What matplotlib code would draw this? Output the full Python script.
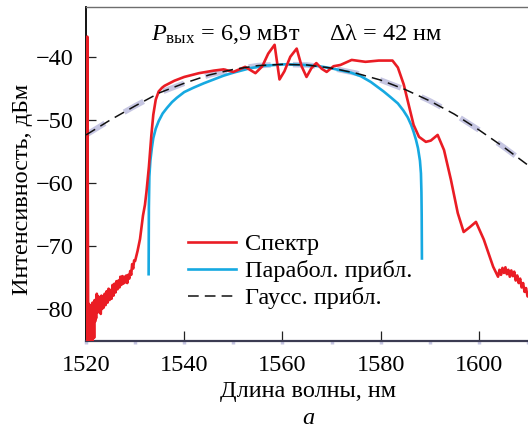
import numpy as np
import matplotlib
matplotlib.use("Agg")
import matplotlib.pyplot as plt
from matplotlib.ticker import MultipleLocator

plt.rcParams['font.family'] = ['Liberation Serif', 'DejaVu Serif']
plt.rcParams['mathtext.fontset'] = 'custom'
plt.rcParams['mathtext.rm'] = 'Liberation Serif'
plt.rcParams['mathtext.it'] = 'Liberation Serif:italic'

# measured output spectrum, nm / dBm
spectrumWl = [1520.05, 1520.25, 1520.45, 1520.55, 1520.65, 1520.75, 1520.85, 1520.95, 1521.05, 1521.15,
              1521.25, 1521.35, 1521.45, 1521.55, 1521.65, 1521.75, 1521.85, 1521.95, 1522.05, 1522.2,
              1522.35, 1522.5, 1522.7, 1522.85, 1523.0, 1523.15, 1523.3, 1523.45, 1523.6, 1523.8,
              1524.0, 1524.2, 1524.4, 1524.6, 1524.8, 1525.0, 1525.2, 1525.4, 1525.6, 1525.8,
              1526.0, 1526.2, 1526.4, 1526.6, 1526.8, 1527.0, 1527.2, 1527.4, 1527.6, 1527.8,
              1528.0, 1528.2, 1528.4, 1528.6, 1528.8, 1529.0, 1529.2, 1529.4, 1529.6, 1529.8,
              1530.0, 1530.5, 1531.0, 1531.6, 1532.0, 1532.3, 1532.8, 1533.3,
              1533.7, 1534.2, 1534.8, 1535.5, 1536.0, 1538.0, 1540.0, 1543.0, 1546.0, 1548.0,
              1550.0, 1552.4, 1554.5, 1555.9, 1557.1, 1558.4, 1559.4, 1560.4, 1561.6, 1562.9,
              1563.9, 1564.9, 1565.9, 1566.9, 1568.0, 1569.0, 1570.4, 1571.8, 1574.1, 1576.9,
              1579.6, 1582.4, 1583.5, 1584.7, 1585.7, 1586.7, 1587.8, 1589.2, 1590.2, 1591.6,
              1592.9, 1594.3, 1595.7, 1596.9, 1598.2, 1599.4, 1601.0, 1602.9, 1603.6, 1603.9,
              1604.2, 1604.5, 1604.8, 1605.1, 1605.4, 1605.7, 1606.0, 1606.3, 1606.6, 1606.9,
              1607.2, 1607.5, 1607.8, 1608.1, 1608.4, 1608.7, 1609.0, 1609.3, 1609.6, 1609.9,
              1610.2]
spectrumDb = [-85.5, -36.8, -85.5, -79.2, -84.5, -79.8, -85.5, -80.5, -84.0, -79.3,
              -85.5, -79.0, -83.2, -79.6, -84.6, -78.6, -82.0, -79.4, -81.5, -77.6,
              -80.6, -78.0, -80.4, -78.2, -80.8, -77.9, -80.0, -78.0, -79.8, -77.6,
              -79.4, -77.2, -79.0, -76.8, -78.6, -77.0, -78.4, -76.2, -77.9, -76.0,
              -77.4, -75.6, -76.9, -75.5, -76.6, -74.9, -76.2, -74.8, -76.0, -74.9,
              -75.8, -74.7, -75.9, -74.6, -75.2, -74.0, -74.6, -72.9, -73.6, -72.3,
              -72.4, -70.8, -68.9, -65.2, -63.5, -61.5, -57.5, -52.5,
              -49.2, -46.8, -45.5, -44.9, -44.6, -43.8, -43.2, -42.6, -42.2, -42.0,
              -42.4, -41.6, -42.6, -41.5, -39.5, -38.1, -43.6, -42.3, -40.0, -38.7,
              -41.5, -43.2, -41.8, -41.0, -41.9, -42.4, -41.5, -41.3, -40.5, -40.8,
              -40.6, -40.6, -41.7, -44.4, -47.6, -50.8, -52.7, -53.5, -53.3, -52.4,
              -54.8, -59.5, -64.8, -67.8, -67.0, -66.2, -69.0, -73.3, -74.4, -74.9,
              -73.8, -74.6, -73.5, -74.3, -73.4, -74.5, -73.8, -74.9, -73.9, -74.8,
              -74.1, -75.5, -74.7, -75.9, -75.2, -76.6, -75.9, -77.3, -76.7, -78.0,
              -78.1]

# parabolic fit
paraWl = [1532.75, 1532.8, 1532.9, 1533.1, 1533.4, 1533.7, 1534.2, 1534.8, 1535.6, 1536.5,
          1537.5, 1538.5, 1540.0, 1541.9, 1544.0, 1546.0, 1548.0, 1550.1, 1553.5, 1556.5,
          1560.5, 1564.5, 1567.5, 1569.8, 1573.9, 1576.0, 1578.0, 1580.6, 1582.0, 1583.5,
          1584.6, 1585.5, 1586.2, 1586.7, 1587.2, 1587.6, 1588.0, 1588.2, 1588.3, 1588.35,
          1588.4]
paraDb = [-74.5, -64.0, -59.0, -56.5, -54.5, -52.9, -51.4, -50.2, -49.0, -48.1,
          -47.2, -46.5, -45.6, -44.9, -44.2, -43.6, -43.0, -42.5, -41.8, -41.4,
          -41.2, -41.3, -41.5, -41.8, -42.5, -43.1, -44.0, -45.5, -46.4, -47.4,
          -48.5, -49.6, -50.8, -51.9, -53.2, -54.5, -56.5, -58.5, -61.5, -65.0,
          -72.0]

# gaussian fit
gaussWl = [1520, 1525, 1530, 1535, 1540, 1545, 1550, 1555, 1560, 1565,
           1570, 1575, 1580, 1585, 1590, 1595, 1600, 1605, 1610]
gaussDb = [-52.4, -50.0, -47.8, -45.7, -44.2, -42.9, -42.0, -41.4, -41.2, -41.3,
           -41.8, -42.6, -43.7, -45.2, -47.0, -49.1, -51.6, -54.3, -57.2]

fig = plt.figure(figsize=(5.28, 4.32), dpi=100)
ax = fig.add_axes([0.1629, 0.2106, 0.8371, 0.7738])

fs = 17.5
lav = '#c6c6e2'

ax.plot(gaussWl, gaussDb, color=lav, lw=4, dashes=(4, 4), solid_capstyle='butt', zorder=1)
ax.plot(spectrumWl, spectrumDb, color='#ea1c24', lw=1.9, label='Спектр', zorder=3)
ax.plot(paraWl, paraDb, color='#16a9e1', lw=1.9, label='Парабол. прибл.', zorder=2)
ax.plot(gaussWl, gaussDb, color='#111111', lw=1.1, dashes=(7, 4), label='Гаусс. прибл.', zorder=4)

ax.set_xlim(1520, 1610)
ax.set_ylim(-85.1, -32.06)

ax.xaxis.set_major_locator(MultipleLocator(20))
ax.xaxis.set_minor_locator(MultipleLocator(10))
ax.xaxis.remove_overlapping_locs = False
ax.set_yticks([-80, -70, -60, -50, -40])

ax.tick_params(axis='both', which='major', direction='in', length=7, width=0.9,
               color='#222222', labelsize=fs)
ax.tick_params(axis='x', which='major', pad=10)
ax.tick_params(axis='y', which='major', pad=9)
ax.tick_params(axis='x', which='minor', direction='out', length=2.5, width=2.5, color=lav)

ax.spines['right'].set_visible(False)
ax.spines['left'].set_linewidth(1.3)
ax.spines['left'].set_color('#000000')
ax.spines['bottom'].set_linewidth(1.6)
ax.spines['bottom'].set_color('#3b3b52')
ax.spines['top'].set_linewidth(1.0)
ax.spines['top'].set_color('#6e6e6e')
ax.spines['left'].set_zorder(2.5)

leg = ax.legend(loc='upper left', bbox_to_anchor=(0.231, 0.322), frameon=False,
                fontsize=fs, handlelength=1.95, handletextpad=0.38, labelspacing=0.2,
                borderpad=0, borderaxespad=0)

fig.text(297 / 528, 1 - 40 / 432, '$P_{\\mathrm{вых}}$ = 6,9 мВт     Δλ = 42 нм',
         ha='center', va='baseline', fontsize=fs)
fig.text(23 / 528, 1 - 189 / 432, 'Интенсивность, дБм', rotation=90,
         ha='center', va='center', fontsize=fs)
fig.text(308 / 528, 1 - 392 / 432, 'Длина волны, нм', ha='center', va='center', fontsize=fs)
fig.text(308 / 528, 1 - 419 / 432, 'а', ha='center', va='center', fontsize=fs, style='italic')

fig.savefig('out.png', dpi=100)
